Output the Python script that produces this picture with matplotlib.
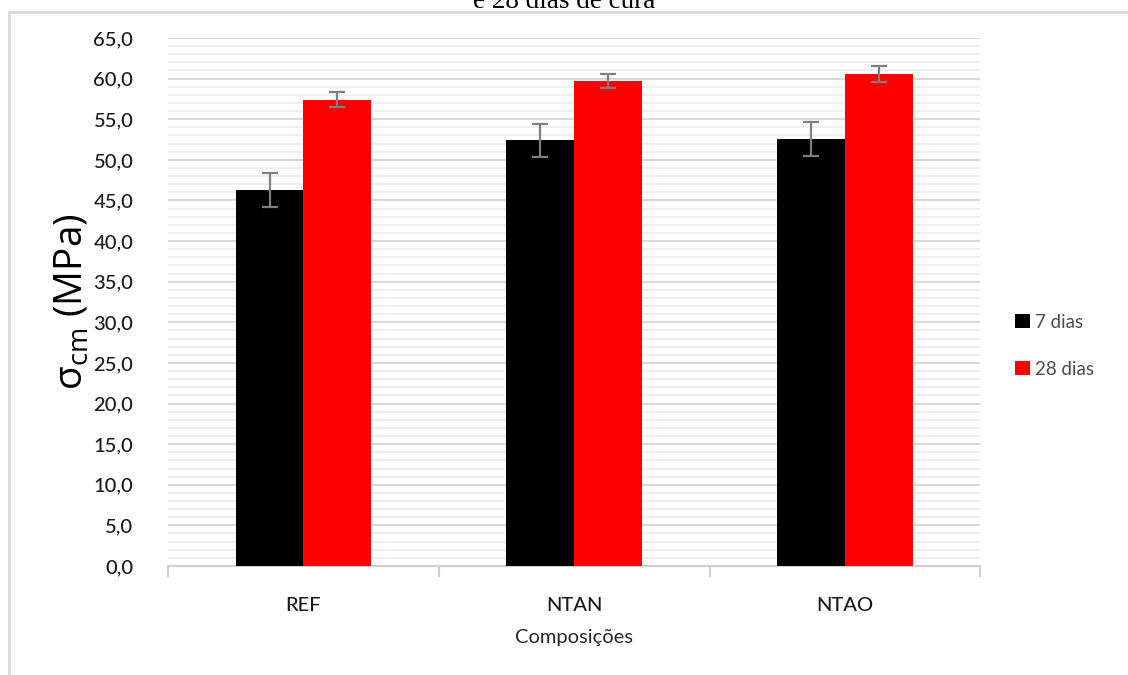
import numpy as np
import matplotlib.pyplot as plt
from matplotlib.patches import Rectangle
from matplotlib.ticker import MultipleLocator, FixedLocator

# compressive strength per composition, mean and deviation (MPa)
composicoes = ['REF', 'NTAN', 'NTAO']
series = ['7 dias', '28 dias']
media_7 = [46.3, 52.4, 52.6]
desvio_7 = [2.1, 2.0, 2.1]
media_28 = [57.4, 59.7, 60.6]
desvio_28 = [0.9, 0.9, 1.0]

plt.rcParams['font.family'] = ['Lato', 'DejaVu Sans']
plt.rcParams['mathtext.fontset'] = 'custom'
plt.rcParams['mathtext.rm'] = 'Open Sans'

fig = plt.figure(figsize=(11.28, 6.75), dpi=100)
ax = fig.add_axes([0.149, 0.1615, 0.72, 0.7822])

x = np.arange(len(composicoes))
w = 0.25
err_kw = dict(ecolor='#7f7f7f', elinewidth=1.6, capsize=6, capthick=1.6)
ax.bar(x - w / 2, media_7, w, yerr=desvio_7, color='black', label=series[0],
       error_kw=err_kw, zorder=3)
ax.bar(x + w / 2, media_28, w, yerr=desvio_28, color='#ff0000', label=series[1],
       error_kw=err_kw, zorder=3)

ax.set_xlim(-0.5, len(composicoes) - 0.5)
ax.set_ylim(0, 65)
ax.yaxis.set_major_locator(MultipleLocator(5))
ax.yaxis.set_minor_locator(MultipleLocator(1))
ax.set_yticklabels([f'{v:.1f}'.replace('.', ',') for v in ax.get_yticks()])
ax.set_xticks(x)
ax.set_xticklabels(composicoes)
ax.xaxis.set_minor_locator(FixedLocator(np.arange(-0.5, len(composicoes), 1.0)))

ax.grid(axis='y', which='major', color='#d9d9d9', linewidth=1.5, zorder=0)
ax.grid(axis='y', which='minor', color='#efefef', linewidth=1.5, zorder=0)
ax.set_axisbelow(True)

for side in ('left', 'right', 'top'):
    ax.spines[side].set_visible(False)
ax.spines['bottom'].set_color('#cfcfcf')
ax.spines['bottom'].set_linewidth(1.5)

ax.tick_params(axis='y', which='both', length=0, pad=25, labelsize=14.5,
               labelcolor='#1a1a1a')
ax.tick_params(axis='x', which='major', length=0, pad=22, labelsize=14.5,
               labelcolor='#1a1a1a')
ax.tick_params(axis='x', which='minor', length=8, width=1.5, color='#cfcfcf')
for lbl in ax.get_xticklabels() + ax.get_yticklabels():
    lbl.set_fontweight('medium')

ax.set_xlabel('Composições', fontsize=14.5, color='#262626', labelpad=11)
ax.set_ylabel(r'$\mathrm{σ}_{\mathrm{cm}}$ (MPa)', fontsize=28, color='black',
              family='Open Sans', labelpad=1)

leg = ax.legend(loc='center left', bbox_to_anchor=(1.022, 0.417), frameon=False,
                fontsize=13.5, handlelength=0.8, handleheight=0.8,
                handletextpad=0.25, labelspacing=1.6)
for t in leg.get_texts():
    t.set_color('#4d4d4d')

# chart frame and the clipped caption above it
fig.patches.append(Rectangle((9 / 1128, -0.1), 1.1, 1.1 - 12 / 675,
                             transform=fig.transFigure, fill=False,
                             edgecolor='#d9d9d9', linewidth=2))
fig.text(0.5, 1 - 8 / 675, 'e 28 dias de cura', ha='center', va='baseline',
         fontsize=19.5, family='Liberation Serif', color='black')

fig.savefig('out.png', dpi=100)
